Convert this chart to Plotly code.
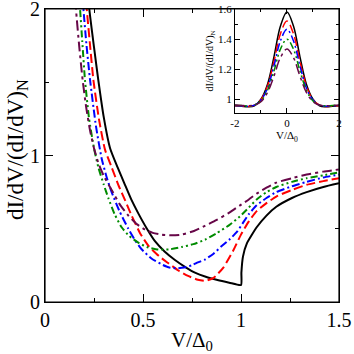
import plotly.graph_objects as go

# main panel: dI/dV normalised vs V/Delta0
black_v = [0.20, 0.226, 0.25, 0.272, 0.30, 0.332, 0.37, 0.408, 0.44, 0.476, 0.52, 0.561, 0.61, 0.663, 0.72, 0.765, 0.82, 0.88, 0.94, 1.0,
           1.002, 1.01, 1.03, 1.08, 1.13, 1.18, 1.26, 1.335, 1.42, 1.5]
black_g = [2.45, 2.0, 1.74, 1.515, 1.26, 1.05, 0.92, 0.80, 0.70, 0.605, 0.50, 0.415, 0.345, 0.287, 0.235, 0.20, 0.172, 0.15, 0.132, 0.116,
           0.2, 0.31, 0.40, 0.51, 0.59, 0.65, 0.71, 0.75, 0.785, 0.81]

red_v = [0.19, 0.213, 0.23, 0.247, 0.275, 0.306, 0.34, 0.374, 0.41, 0.442, 0.485, 0.527, 0.58, 0.63, 0.68, 0.73, 0.78, 0.82, 0.86, 0.91,
         0.96, 1.0, 1.04, 1.08, 1.13, 1.18, 1.26, 1.335, 1.42, 1.5]
red_g = [2.4, 2.0, 1.75, 1.515, 1.25, 1.04, 0.92, 0.80, 0.69, 0.59, 0.47, 0.385, 0.315, 0.264, 0.215, 0.178, 0.152, 0.145, 0.165, 0.235,
         0.35, 0.46, 0.55, 0.62, 0.675, 0.72, 0.765, 0.80, 0.825, 0.845]

blue_v = [0.175, 0.196, 0.212, 0.23, 0.26, 0.289, 0.315, 0.34, 0.38, 0.425, 0.46, 0.493, 0.545, 0.595, 0.63, 0.67, 0.71, 0.748, 0.78, 0.816,
          0.86, 0.90, 0.944, 0.98, 1.01, 1.04, 1.08, 1.13, 1.18, 1.26, 1.335, 1.42, 1.5]
blue_g = [2.4, 2.0, 1.75, 1.515, 1.20, 0.98, 0.85, 0.75, 0.62, 0.50, 0.42, 0.36, 0.295, 0.257, 0.237, 0.23, 0.236, 0.25, 0.27, 0.29,
          0.33, 0.38, 0.43, 0.48, 0.54, 0.60, 0.66, 0.71, 0.75, 0.79, 0.82, 0.85, 0.87]

green_v = [0.16, 0.179, 0.19, 0.204, 0.225, 0.25, 0.272, 0.30, 0.323, 0.355, 0.391, 0.43, 0.476, 0.52, 0.578, 0.638, 0.697, 0.757, 0.816, 0.876,
           0.94, 0.995, 1.04, 1.08, 1.13, 1.18, 1.26, 1.335, 1.42, 1.5]
green_g = [2.4, 2.0, 1.78, 1.515, 1.25, 1.05, 0.92, 0.80, 0.71, 0.60, 0.51, 0.45, 0.405, 0.375, 0.358, 0.36, 0.375, 0.395, 0.425, 0.47,
           0.525, 0.585, 0.645, 0.70, 0.75, 0.785, 0.82, 0.845, 0.865, 0.885]

purple_v = [0.145, 0.158, 0.175, 0.192, 0.21, 0.23, 0.25, 0.272, 0.30, 0.34, 0.38, 0.425, 0.47, 0.51, 0.55, 0.595, 0.65, 0.697, 0.76, 0.816,
            0.876, 0.94, 0.995, 1.04, 1.08, 1.13, 1.18, 1.26, 1.335, 1.42, 1.5]
purple_g = [2.35, 2.0, 1.74, 1.515, 1.33, 1.17, 1.05, 0.95, 0.86, 0.765, 0.67, 0.59, 0.53, 0.495, 0.472, 0.46, 0.455, 0.46, 0.485, 0.52,
            0.56, 0.61, 0.66, 0.70, 0.74, 0.78, 0.815, 0.845, 0.87, 0.89, 0.905]

# inset: zero-bias peak
inset_v = [-2, -1.75, -1.5, -1.25, -1, -0.75, -0.5, -0.25, 0, 0.25, 0.5, 0.75, 1, 1.25, 1.5, 1.75, 2]
inset_black = [0.958, 0.955, 0.952, 0.958, 1.002, 1.10, 1.283, 1.487, 1.58, 1.487, 1.283, 1.10, 1.002, 0.958, 0.952, 0.955, 0.958]
inset_red = [0.959, 0.956, 0.953, 0.962, 0.998, 1.087, 1.251, 1.436, 1.52, 1.436, 1.251, 1.087, 0.998, 0.962, 0.953, 0.956, 0.959]
inset_blue = [0.96, 0.957, 0.955, 0.962, 0.996, 1.074, 1.222, 1.389, 1.465, 1.389, 1.222, 1.074, 0.996, 0.962, 0.955, 0.957, 0.96]
inset_green = [0.962, 0.96, 0.957, 0.963, 0.99, 1.06, 1.188, 1.334, 1.40, 1.334, 1.188, 1.06, 0.99, 0.963, 0.957, 0.96, 0.962]
inset_purple = [0.963, 0.96, 0.958, 0.963, 0.985, 1.045, 1.154, 1.278, 1.335, 1.278, 1.154, 1.045, 0.985, 0.963, 0.958, 0.96, 0.963]

styles = [("rgb(0,0,0)", "solid"),
          ("rgb(255,0,0)", "9px,4px"),
          ("rgb(0,0,255)", "8px,3px,2px,3px"),
          ("rgb(0,139,0)", "7px,3px,2px,3px,2px,3px"),
          ("rgb(103,7,72)", "10px,4px,3px,4px")]

main_curves = [(black_v, black_g), (red_v, red_g), (blue_v, blue_g), (green_v, green_g), (purple_v, purple_g)]
inset_curves = [inset_black, inset_red, inset_blue, inset_green, inset_purple]

fig = go.Figure()
for (v, g), (col, dash) in zip(main_curves, styles):
    fig.add_trace(go.Scatter(x=v, y=g, mode="lines", line=dict(color=col, dash=dash, width=2, shape="spline", smoothing=0.5),
                             showlegend=False, xaxis="x", yaxis="y"))
for g, (col, dash) in zip(inset_curves, styles):
    fig.add_trace(go.Scatter(x=inset_v, y=g, mode="lines", line=dict(color=col, dash=dash, width=1.5, shape="spline"),
                             showlegend=False, xaxis="x2", yaxis="y2"))

serif = "Liberation Serif"
ax_common = dict(ticks="inside", showline=True, linecolor="black", linewidth=1, automargin=False, mirror="allticks",
                 showgrid=False, zeroline=False, tickcolor="black", ticklabeloverflow="allow")

fig.update_layout(
    width=354, height=354,
    margin=dict(l=45, r=15, t=9, b=52, autoexpand=False),
    paper_bgcolor="white", plot_bgcolor="white",
    font=dict(family=serif, color="black"),
    xaxis=dict(domain=[0, 1], range=[0, 1.5], tickvals=[0, 0.5, 1, 1.5], ticktext=["0", "0.5", "1", "1.5"],
               ticklen=8, tickwidth=1.2, tickfont=dict(size=20),
               minor=dict(tickvals=[0.25, 0.75, 1.25], ticklen=4, ticks="inside", tickcolor="black"),
               title=dict(text="V/Δ<sub>0</sub>", font=dict(size=21), standoff=2), **ax_common),
    yaxis=dict(domain=[0, 1], range=[0, 2], tickvals=[0, 1, 2], ticktext=["0", "1", "2"],
               ticklen=8, tickwidth=1.2, tickfont=dict(size=20),
               minor=dict(tickvals=[0.5, 1.5], ticklen=4, ticks="inside", tickcolor="black"), **ax_common),
    xaxis2=dict(domain=[0.646, 1], range=[-2, 2], anchor="y2", tickvals=[-2, 0, 2], ticktext=["-2", "0", "2"],
                ticklen=5, tickwidth=1, tickfont=dict(size=11),
                minor=dict(tickvals=[-1, 1], ticklen=3, ticks="inside", tickcolor="black"),
                title=dict(text="V/Δ<sub>0</sub>", font=dict(size=11), standoff=0), **ax_common),
    yaxis2=dict(domain=[0.645, 1], range=[0.91, 1.6], anchor="x2", tickvals=[1, 1.2, 1.4, 1.6],
                ticktext=["1", "1.2", "1.4", "1.6"], ticklen=5, tickwidth=1, tickfont=dict(size=11),
                minor=dict(tickvals=[1.1, 1.3, 1.5], ticklen=3, ticks="inside", tickcolor="black"),
                title=dict(text="dI/dV/(dI/dV)<sub>N</sub>", font=dict(size=10), standoff=2), **ax_common),
)
# main y title as a rotated annotation so it can be centred like the original
fig.add_annotation(text="dI/dV/(dI/dV)<sub>N</sub>", xref="paper", yref="paper", x=-0.097, y=0.52,
                   textangle=-90, showarrow=False, xanchor="center", yanchor="middle", font=dict(size=23))
# frame of the main panel (top and right edges)
fig.add_shape(type="rect", xref="paper", yref="paper", x0=0, x1=1, y0=0, y1=1,
              line=dict(color="black", width=1.2), layer="above")

fig.write_html("out.html", config={"displayModeBar": False},
               post_script="document.body.style.margin='0';document.body.style.overflow='hidden';")
